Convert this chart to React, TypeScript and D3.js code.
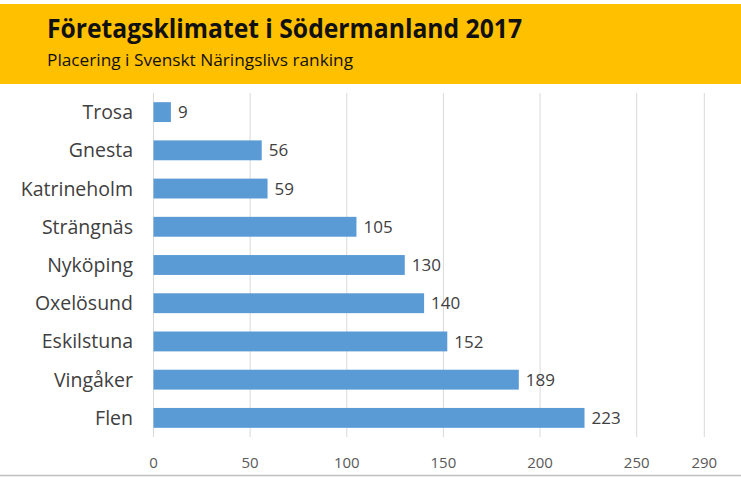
import React, { useEffect, useRef } from "react";
import * as d3 from "d3";

const categories = ["Trosa", "Gnesta", "Katrineholm", "Strängnäs", "Nyköping", "Oxelösund", "Eskilstuna", "Vingåker", "Flen"];
const values = [9, 56, 59, 105, 130, 140, 152, 189, 223];
const tickValues = [0, 50, 100, 150, 200, 250, 290];
const title = "Företagsklimatet i Södermanland 2017";
const subtitle = "Placering i Svenskt Näringslivs ranking";

const W = 741;
const H = 477;
const FONT = "'Open Sans', 'Noto Sans', sans-serif";

export default function App() {
  const ref = useRef<SVGSVGElement>(null);

  useEffect(() => {
    const svg = d3.select(ref.current);
    svg.selectAll("*").remove();

    svg.append("rect").attr("x", 0).attr("y", 0).attr("width", W).attr("height", H).attr("fill", "#ffffff");

    // header band
    svg.append("rect").attr("x", 0).attr("y", 4).attr("width", W).attr("height", 80).attr("fill", "#FFC000");
    svg.append("text")
      .attr("x", 47).attr("y", 38)
      .attr("font-family", FONT).attr("font-weight", 700).attr("font-size", 27)
      .attr("fill", "#111")
      .attr("textLength", 475).attr("lengthAdjust", "spacingAndGlyphs")
      .text(title);
    svg.append("text")
      .attr("x", 47).attr("y", 66)
      .attr("font-family", FONT).attr("font-size", 16)
      .attr("fill", "#111")
      .attr("textLength", 306).attr("lengthAdjust", "spacingAndGlyphs")
      .text(subtitle);

    const x = d3.scaleLinear().domain([0, 250, 290]).range([153.5, 636.7, 704.3]);
    const y = d3.scaleBand().domain(categories).range([93, 437]).paddingInner(0.48).paddingOuter(0.24);

    // gridlines
    svg.append("g").selectAll("line").data(tickValues).join("line")
      .attr("x1", d => x(d)).attr("x2", d => x(d))
      .attr("y1", 93).attr("y2", 437)
      .attr("stroke", "#d9d9d9").attr("stroke-width", 1);

    // tick labels
    svg.append("g").selectAll("text").data(tickValues).join("text")
      .attr("x", d => x(d)).attr("y", 468)
      .attr("text-anchor", "middle")
      .attr("font-family", FONT).attr("font-size", 15)
      .attr("fill", "#595959")
      .text(d => String(d));

    // bars
    svg.append("g").selectAll("rect").data(values).join("rect")
      .attr("x", x(0))
      .attr("y", (d, i) => y(categories[i])!)
      .attr("width", d => x(d) - x(0))
      .attr("height", y.bandwidth())
      .attr("fill", "#5B9BD5");

    // value labels
    svg.append("g").selectAll("text").data(values).join("text")
      .attr("x", d => x(d) + 7)
      .attr("y", (d, i) => y(categories[i])! + y.bandwidth() / 2)
      .attr("dy", "0.36em")
      .attr("font-family", FONT).attr("font-size", 17)
      .attr("fill", "#404040")
      .text(d => String(d));

    // category labels
    svg.append("g").selectAll("text").data(categories).join("text")
      .attr("x", 133)
      .attr("y", d => y(d)! + y.bandwidth() / 2)
      .attr("dy", "0.36em")
      .attr("text-anchor", "end")
      .attr("font-family", FONT).attr("font-size", 19.5)
      .attr("fill", "#404040")
      .text(d => d);

    // bottom border
    svg.append("line").attr("x1", 0).attr("x2", W).attr("y1", 475.5).attr("y2", 475.5)
      .attr("stroke", "#bfbfbf").attr("stroke-width", 1.5);
  }, []);

  return (
    <svg ref={ref} width={W} height={H} style={{ position: "absolute", left: 0, top: 0, display: "block" }} />
  );
}
